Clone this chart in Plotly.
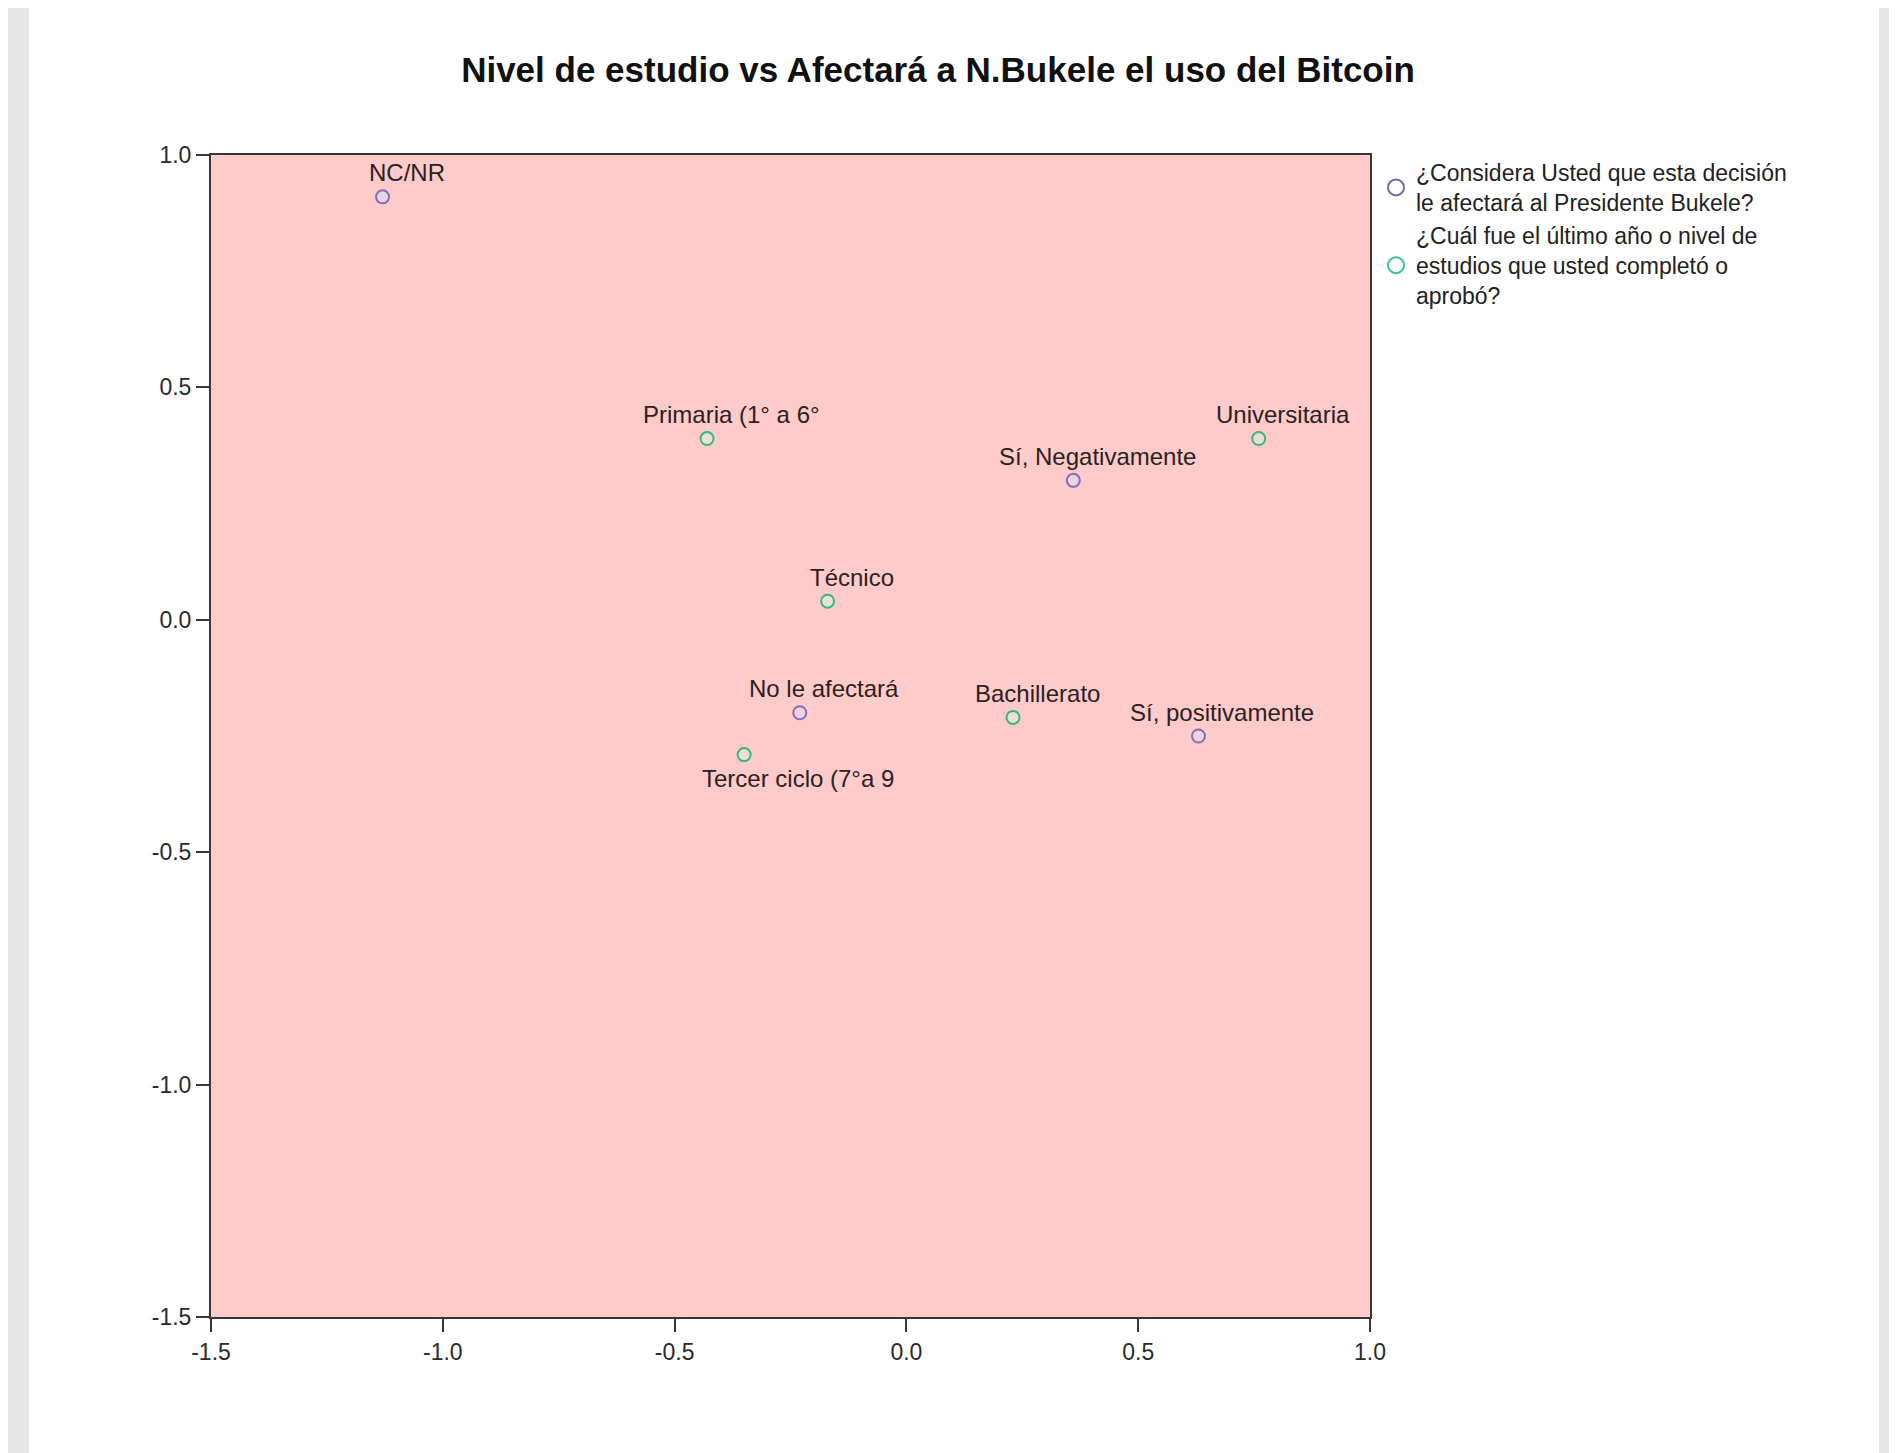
import plotly.graph_objects as go

# ---- data ----
title_text = "Nivel de estudio vs Afectará a N.Bukele el uso del Bitcoin"

series1_name = "¿Considera Usted que esta decisión<br>le afectará al Presidente Bukele?"
series1_labels = ["NC/NR", "No le afectará", "Sí, Negativamente", "Sí, positivamente"]
series1_x = [-1.13, -0.23, 0.36, 0.63]
series1_y = [0.91, -0.20, 0.30, -0.25]

series2_name = "¿Cuál fue el último año o nivel de<br>estudios que usted completó o<br>aprobó?"
series2_labels = ["Primaria (1° a 6°", "Universitaria", "Técnico", "Bachillerato", "Tercer ciclo (7°a 9"]
series2_x = [-0.43, 0.76, -0.17, 0.23, -0.35]
series2_y = [0.39, 0.39, 0.04, -0.21, -0.29]

x_tickvals = [-1.5, -1.0, -0.5, 0.0, 0.5, 1.0]
x_ticktext = ["-1.5", "-1.0", "-0.5", "0.0", "0.5", "1.0"]
y_tickvals = [-1.5, -1.0, -0.5, 0.0, 0.5, 1.0]
y_ticktext = ["-1.5", "-1.0", "-0.5", "0.0", "0.5", "1.0"]

# ---- styling ----
FONT = "Liberation Sans, Arial, sans-serif"
PURPLE = "#8070b8"
GREEN = "#3db47a"
LEG_PURPLE = "#6a6fae"
LEG_GREEN = "#3cc48c"
AXIS = "#3d3535"
LABEL_SHIFT_DEFAULT = (24, 24)
LABEL_SHIFT_SPECIAL = {"Tercer ciclo (7°a 9": (54, -24)}

fig = go.Figure()

fig.add_trace(go.Scatter(
    x=series1_x, y=series1_y, mode="markers", name=series1_name, showlegend=False,
    legendgroup="s1",
    marker=dict(symbol="circle", size=13, color="rgba(225,215,245,0.6)",
                line=dict(color=PURPLE, width=2)),
))
fig.add_trace(go.Scatter(
    x=series2_x, y=series2_y, mode="markers", name=series2_name, showlegend=False,
    legendgroup="s2",
    marker=dict(symbol="circle", size=13, color="rgba(215,240,220,0.6)",
                line=dict(color=GREEN, width=2)),
))
# legend entries (larger symbols, as in the original legend)
fig.add_trace(go.Scatter(
    x=[None], y=[None], mode="markers", name=series1_name, legendgroup="s1",
    marker=dict(symbol="circle-open", size=16, color=LEG_PURPLE, line=dict(width=2)),
))
fig.add_trace(go.Scatter(
    x=[None], y=[None], mode="markers", name=series2_name, legendgroup="s2",
    marker=dict(symbol="circle-open", size=16, color=LEG_GREEN, line=dict(width=2)),
))

annotations = []
for xs, ys, labs in [(series1_x, series1_y, series1_labels), (series2_x, series2_y, series2_labels)]:
    for xv, yv, lab in zip(xs, ys, labs):
        dx, dy = LABEL_SHIFT_SPECIAL.get(lab, LABEL_SHIFT_DEFAULT)
        annotations.append(dict(
            x=xv, y=yv, xref="x", yref="y", text=lab, showarrow=False,
            xshift=dx, yshift=dy, xanchor="center", yanchor="middle",
            font=dict(family=FONT, size=24, color="#2a2222"),
        ))

# page offset of the plotly div (body margin)
OFF = 8
W, H = 1897 - OFF, 1453 - OFF
L, R, T, B = 211 - OFF, 1370 - OFF, 155 - OFF, 1317 - OFF
pw, ph = R - L, B - T


def px_x(p):
    return (p - L) / pw


def px_y(p):
    return (B - p) / ph


GRAY = "#e6e6e6"
shapes = [
    dict(type="rect", xref="paper", yref="paper", x0=px_x(0), x1=px_x(29 - OFF), y0=px_y(H), y1=px_y(0),
         fillcolor=GRAY, line=dict(width=0), layer="below"),
    dict(type="rect", xref="paper", yref="paper", x0=px_x(1879 - OFF), x1=px_x(W), y0=px_y(H), y1=px_y(0),
         fillcolor=GRAY, line=dict(width=0), layer="below"),
]

axis_common = dict(
    showgrid=False, zeroline=False, showline=True, linecolor=AXIS, linewidth=2,
    mirror=True, ticks="outside", ticklen=13, tickwidth=2, tickcolor=AXIS,
    tickfont=dict(family=FONT, size=23, color="#2a2a2a"),
)

fig.update_layout(
    width=W, height=H,
    margin=dict(l=L, r=W - R, t=T, b=H - B),
    paper_bgcolor="white",
    plot_bgcolor="#fecaca",
    title=dict(text="<b>" + title_text + "</b>", x=(938 - OFF) / W, xanchor="center",
               y=1 - (70 - OFF) / H, yanchor="middle", xref="container", yref="container",
               font=dict(family=FONT, size=35, color="#111")),
    xaxis=dict(range=[-1.5, 1.0], tickvals=x_tickvals, ticktext=x_ticktext, **axis_common),
    yaxis=dict(range=[-1.5, 1.0], tickvals=y_tickvals, ticktext=y_ticktext, **axis_common),
    legend=dict(x=px_x(1376 - OFF), xanchor="left", y=px_y(151 - OFF), yanchor="top",
                font=dict(family=FONT, size=23, color="#222"),
                bgcolor="rgba(0,0,0,0)", itemwidth=30, tracegroupgap=0),
    annotations=annotations,
    shapes=shapes,
    showlegend=True,
)

fig.write_html("out.html")
